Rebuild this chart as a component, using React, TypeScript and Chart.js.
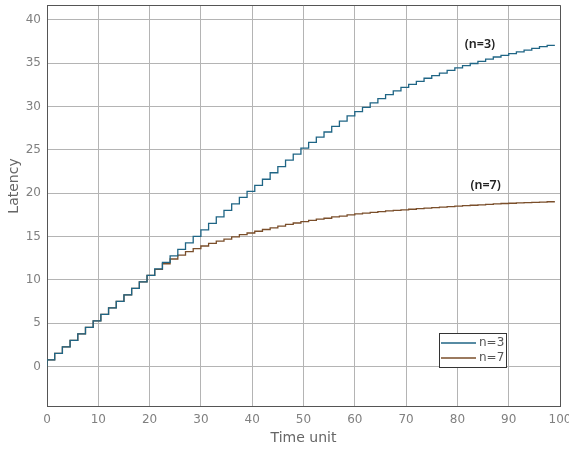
import React, { useEffect, useRef } from "react";
import { Chart, registerables } from "chart.js";

Chart.register(...registerables);

const timeUnits = [
  0, 1.5, 3, 4.5, 6, 7.5, 9, 10.5, 12, 13.5, 15, 16.5, 18, 19.5, 21, 22.5, 24, 25.5, 27, 28.5,
  30, 31.5, 33, 34.5, 36, 37.5, 39, 40.5, 42, 43.5, 45, 46.5, 48, 49.5, 51, 52.5, 54, 55.5, 57, 58.5,
  60, 61.5, 63, 64.5, 66, 67.5, 69, 70.5, 72, 73.5, 75, 76.5, 78, 79.5, 81, 82.5, 84, 85.5, 87, 88.5,
  90, 91.5, 93, 94.5, 96, 97.5, 99,
];

const latencyN3 = [
  0, 0.75, 1.5, 2.25, 3.0, 3.75, 4.5, 5.25, 6.0, 6.75, 7.5, 8.25, 9.0, 9.75, 10.5, 11.25, 12.0, 12.75, 13.5, 14.25,
  15.0, 15.75, 16.5, 17.25, 18.0, 18.75, 19.5, 20.2, 20.9, 21.6, 22.35, 23.05, 23.8, 24.5, 25.2, 25.85, 26.45, 27.05, 27.7, 28.3,
  28.9, 29.4, 29.9, 30.4, 30.9, 31.35, 31.8, 32.2, 32.55, 32.9, 33.25, 33.55, 33.85, 34.15, 34.45, 34.7, 34.95, 35.2, 35.45, 35.7,
  35.9, 36.1, 36.3, 36.5, 36.7, 36.9, 37.05,
];

const latencyN7 = [
  0, 0.75, 1.5, 2.25, 3.0, 3.75, 4.5, 5.25, 6.0, 6.75, 7.5, 8.25, 9.0, 9.75, 10.5, 11.2, 11.85, 12.4, 12.85, 13.25,
  13.6, 13.9, 14.2, 14.45, 14.7, 14.95, 15.2, 15.4, 15.6, 15.8, 16.0, 16.2, 16.4, 16.55, 16.7, 16.85, 17.0, 17.1, 17.25, 17.35,
  17.5, 17.6, 17.7, 17.78, 17.86, 17.94, 18.0, 18.07, 18.14, 18.2, 18.26, 18.32, 18.38, 18.44, 18.5, 18.55, 18.6, 18.65, 18.7, 18.75,
  18.8, 18.83, 18.87, 18.9, 18.93, 18.96, 19.0,
];

const yTickValues = [0, 5, 10, 15, 20, 25, 30, 35, 40];
const seriesLabels = ["n=3", "n=7"];
const seriesColors = ["#1f6585", "#7a4e2a"];
const annotations = [
  { text: "(n=3)", x: 84.4, y: 37.1 },
  { text: "(n=7)", x: 85.5, y: 20.9 },
];

const overlayPlugin = {
  id: "overlay",
  afterDraw(chart: any) {
    const { ctx, chartArea } = chart;
    const xs = chart.scales.x;
    const ys = chart.scales.y;
    ctx.save();
    // frame top/right
    ctx.strokeStyle = "#555";
    ctx.lineWidth = 1;
    ctx.beginPath();
    ctx.moveTo(chartArea.left, chartArea.top + 0.5);
    ctx.lineTo(chartArea.right + 0.5, chartArea.top + 0.5);
    ctx.lineTo(chartArea.right + 0.5, chartArea.bottom);
    ctx.stroke();

    // annotations
    ctx.fillStyle = "#222";
    ctx.font = "600 12.5px 'Noto Sans'";
    ctx.textAlign = "center";
    ctx.textBaseline = "middle";
    annotations.forEach((a) => {
      ctx.fillText(a.text, xs.getPixelForValue(a.x), ys.getPixelForValue(a.y));
    });

    // legend
    const lx = chartArea.right - 121;
    const ly = chartArea.bottom - 73;
    ctx.fillStyle = "#fff";
    ctx.fillRect(lx, ly, 67, 34);
    ctx.strokeStyle = "#333";
    ctx.strokeRect(lx + 0.5, ly + 0.5, 67, 34);
    ctx.font = "12px 'DejaVu Sans'";
    ctx.textAlign = "left";
    seriesLabels.forEach((lab, i) => {
      const yy = ly + 10 + i * 15;
      ctx.strokeStyle = seriesColors[i];
      ctx.lineWidth = 1.5;
      ctx.beginPath();
      ctx.moveTo(lx + 2, yy);
      ctx.lineTo(lx + 37, yy);
      ctx.stroke();
      ctx.fillStyle = "#555";
      ctx.fillText(lab, lx + 40, yy);
    });

    // axis titles
    ctx.fillStyle = "#666";
    ctx.font = "14px 'DejaVu Sans'";
    ctx.textAlign = "center";
    ctx.fillText("Time unit", (chartArea.left + chartArea.right) / 2, chartArea.bottom + 32);
    ctx.translate(14, 186);
    ctx.rotate(-Math.PI / 2);
    ctx.fillText("Latency", 0, 0);
    ctx.restore();
  },
};

export default function App() {
  const ref = useRef<HTMLCanvasElement>(null);
  useEffect(() => {
    if (!ref.current) return;
    const chart = new Chart(ref.current, {
      type: "line",
      data: {
        datasets: [latencyN3, latencyN7].map((vals, i) => ({
          label: seriesLabels[i],
          data: timeUnits.map((x, j) => ({ x, y: vals[j] })),
          stepped: "after" as const,
          borderColor: seriesColors[i],
          borderWidth: 1.3,
          pointRadius: 0,
          fill: false,
        })),
      },
      options: {
        animation: false,
        responsive: false,
        layout: { padding: { top: 5, right: 9, left: 0, bottom: 0 } },
        plugins: { legend: { display: false }, tooltip: { enabled: false } },
        scales: {
          x: {
            type: "linear",
            min: 0,
            max: 100,
            ticks: { stepSize: 10, color: "#808080", font: { family: "DejaVu Sans", size: 12 }, padding: 7 },
            grid: { color: "#b4b4b4", drawTicks: false },
            border: { color: "#555", display: true },
            afterFit: (s: any) => { s.height = 46; s.paddingLeft = 0; s.paddingRight = 0; },
          },
          y: {
            type: "linear",
            min: -4.56,
            max: 41.7,
            afterBuildTicks: (s: any) => { s.ticks = yTickValues.map((v) => ({ value: v })); },
            ticks: { color: "#808080", font: { family: "DejaVu Sans", size: 12 }, padding: 6 },
            grid: { color: "#b4b4b4", drawTicks: false },
            border: { color: "#555", display: true },
            afterFit: (s: any) => { s.width = 47; s.paddingTop = 0; s.paddingBottom = 0; },
          },
        },
      },
      plugins: [overlayPlugin],
    });
    return () => chart.destroy();
  }, []);
  return (
    <div style={{ position: "fixed", left: 0, top: 0, width: 569, height: 452, background: "#fff" }}>
      <canvas ref={ref} width={569} height={452} />
    </div>
  );
}
